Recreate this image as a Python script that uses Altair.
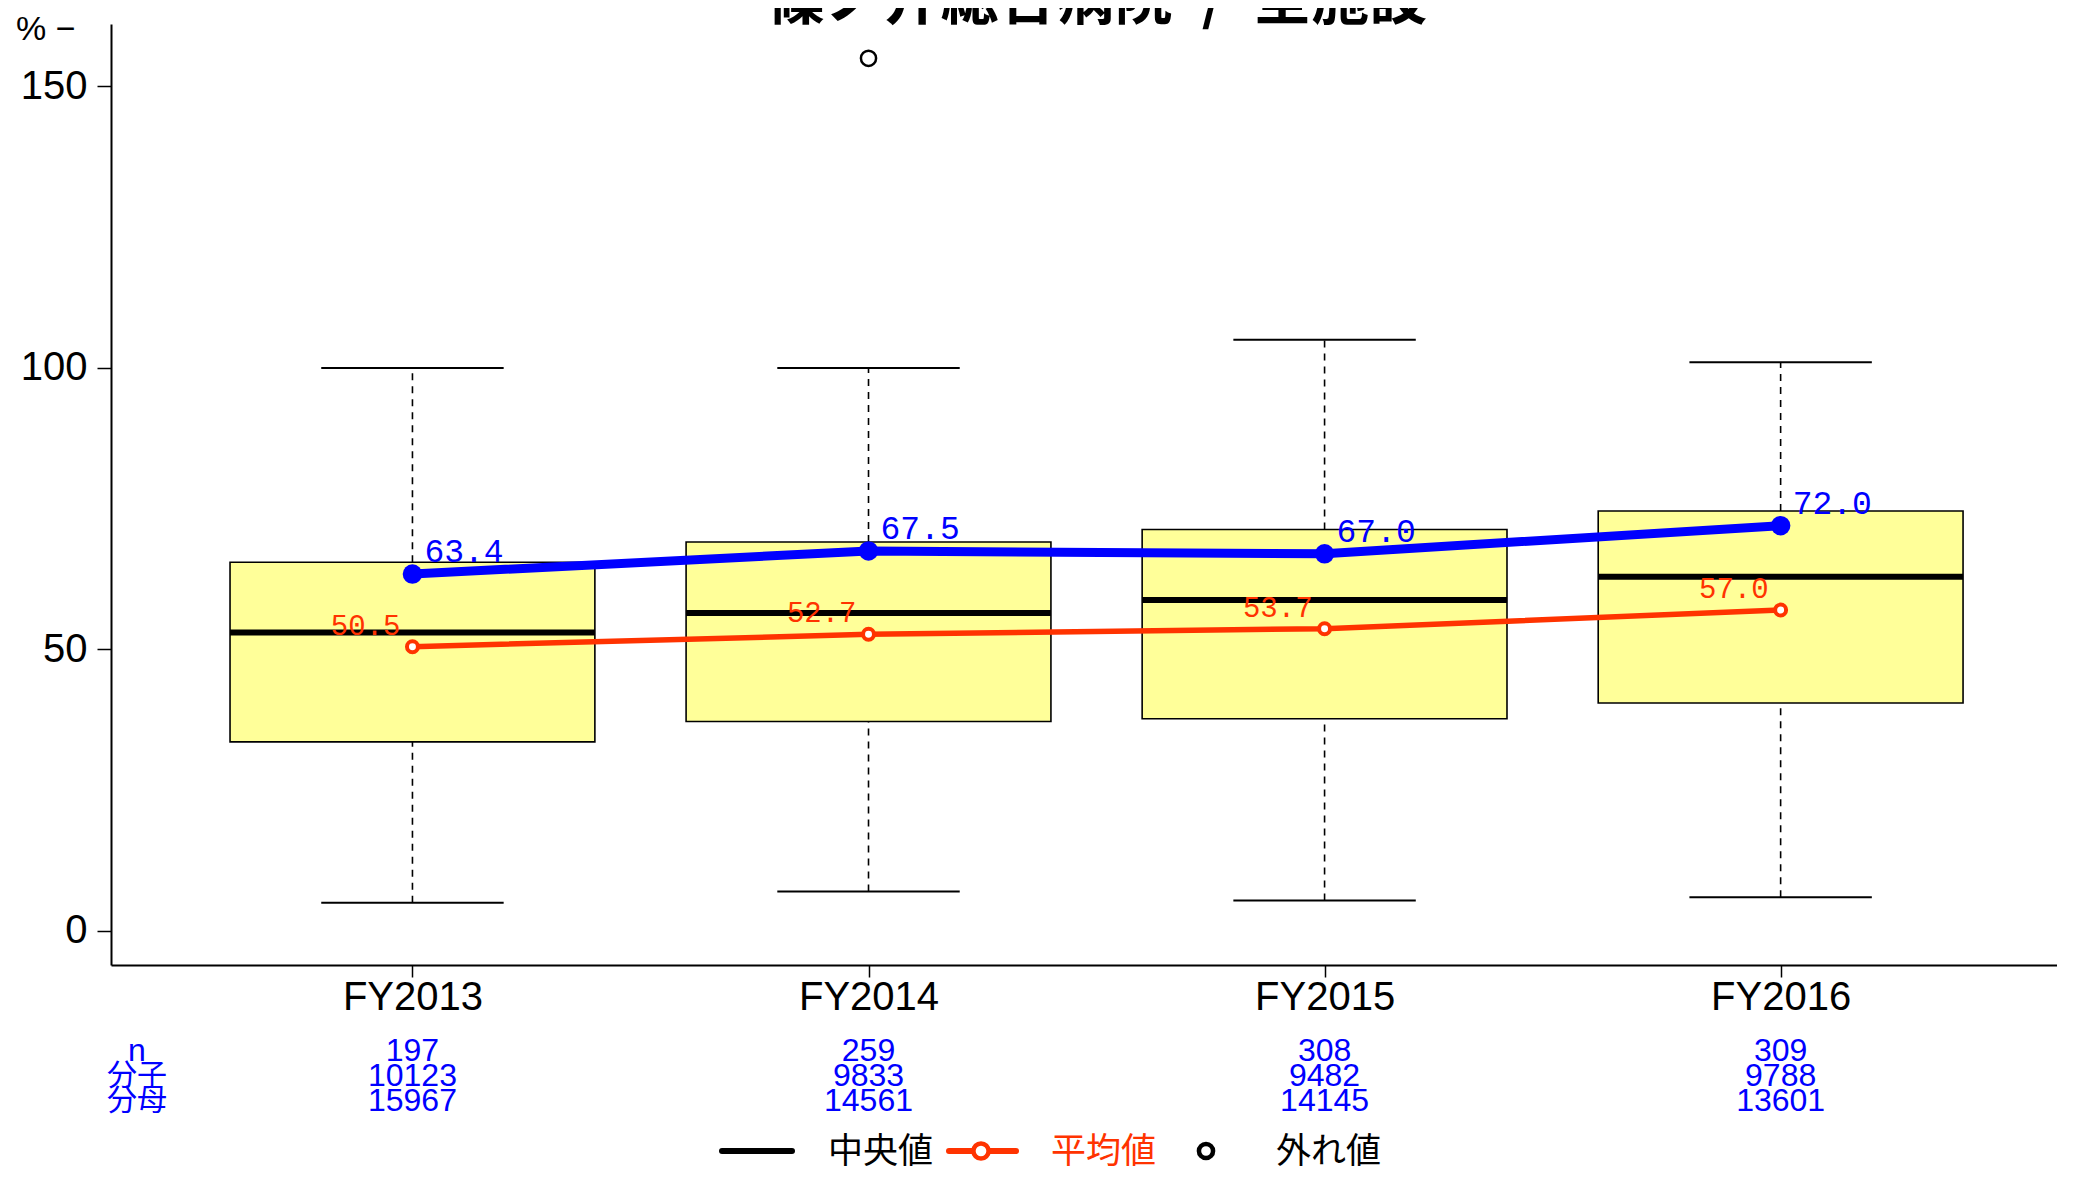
import json
import altair as alt
import pandas as pd

# ---------------- data ----------------
years = ["FY2013", "FY2014", "FY2015", "FY2016"]
idx = [1, 2, 3, 4]
whisker_low = [5.0, 7.0, 5.4, 6.0]
q1 = [33.6, 37.2, 37.7, 40.5]
median = [53.0, 56.5, 58.8, 62.9]
q3 = [65.5, 69.1, 71.3, 74.6]
whisker_high = [100.0, 100.0, 105.0, 101.0]
mean_vals = [50.5, 52.7, 53.7, 57.0]
hosp_vals = [63.4, 67.5, 67.0, 72.0]
outlier_idx = [2]
outlier_vals = [155.0]
n_vals = [197, 259, 308, 309]
numer_vals = [10123, 9833, 9482, 9788]
denom_vals = [15967, 14561, 14145, 13601]
row_labels = ["n", "分子", "分母"]
title_text = "篠ノ井総合病院\u2002/\u2002全施設"
legend_labels = ["中央値", "平均値", "外れ値"]

# ---------------- style ----------------
FONT = "Liberation Sans Narrow, Liberation Sans, Arial, sans-serif"
MONO = "Liberation Mono, DejaVu Sans Mono, monospace"
CJK = "Noto Sans CJK JP"
BLUE = "#0000FF"
RED = "#FF3300"
BOXFILL = "#FFFF99"

W, H = 1946, 941

df = pd.DataFrame({
    "i": idx, "year": years, "low": whisker_low, "q1": q1, "median": median,
    "q3": q3, "high": whisker_high, "mean": mean_vals, "hosp": hosp_vals,
    "n": n_vals, "numer": numer_vals, "denom": denom_vals,
})
df["mean_lbl"] = [f"{v:.1f}" for v in mean_vals]
df["hosp_lbl"] = [f"{v:.1f}" for v in hosp_vals]
out_df = pd.DataFrame({"i": outlier_idx, "v": outlier_vals})

xscale = alt.Scale(domain=[0.339, 4.606], nice=False, zero=False)
yscale = alt.Scale(domain=[-6.04, 161.1], nice=False, zero=False)

label_expr = f"{json.dumps(years)}[datum.value - 1]"
X = alt.X("i:Q", scale=xscale, title=None,
          axis=alt.Axis(values=idx, labelExpr=label_expr, grid=False, tickSize=12,
                        labelPadding=0, labelFontSize=40, labelFont=FONT,
                        labelColor="black", domainColor="black", domainWidth=2,
                        tickColor="black", tickWidth=1.5, labelFlush=False))
Y = alt.Y("v:Q", scale=yscale, title=None,
          axis=alt.Axis(values=[0, 50, 100, 150], grid=False, tickSize=14,
                        labelPadding=10, labelFontSize=40, labelFont=FONT,
                        labelColor="black", domainColor="black", domainWidth=2,
                        tickColor="black", tickWidth=1.5))

base = alt.Chart(df).transform_calculate(
    bl="datum.i - 0.4", br="datum.i + 0.4", cl="datum.i - 0.2", cr="datum.i + 0.2"
)


def xq(f):
    return alt.X(f"{f}:Q", scale=xscale, title=None)


def yq(f):
    return alt.Y(f"{f}:Q", scale=yscale, title=None)


# axis carrier layer (invisible)
axes = alt.Chart(out_df).mark_point(opacity=0).encode(x=X, y=Y)

wh_up = base.mark_rule(color="black", strokeWidth=1.6, strokeDash=[7, 6]).encode(
    x=xq("i"), y=yq("q3"), y2="high")
wh_lo = base.mark_rule(color="black", strokeWidth=1.6, strokeDash=[7, 6]).encode(
    x=xq("i"), y=yq("low"), y2="q1")
cap_up = base.mark_rule(color="black", strokeWidth=2).encode(
    x=xq("cl"), x2="cr", y=yq("high"))
cap_lo = base.mark_rule(color="black", strokeWidth=2).encode(
    x=xq("cl"), x2="cr", y=yq("low"))
box = base.mark_rect(fill=BOXFILL, stroke="black", strokeWidth=1.6).encode(
    x=xq("bl"), x2="br", y=yq("q1"), y2="q3")
med = base.mark_rule(color="black", strokeWidth=6).encode(
    x=xq("bl"), x2="br", y=yq("median"))

mean_line = base.mark_line(color=RED, strokeWidth=5.5).encode(x=xq("i"), y=yq("mean"))
mean_pts = base.mark_point(shape="circle", fill="white", stroke=RED, strokeWidth=4,
                           size=120, opacity=1, filled=False).encode(x=xq("i"), y=yq("mean"))
mean_txt = base.mark_text(color=RED, font=MONO, fontSize=29, align="right",
                          baseline="bottom", dx=-12, dy=-6).encode(
    x=xq("i"), y=yq("mean"), text="mean_lbl:N")

hosp_line = base.mark_line(color=BLUE, strokeWidth=9).encode(x=xq("i"), y=yq("hosp"))
hosp_pts = base.mark_circle(color=BLUE, size=380, opacity=1).encode(x=xq("i"), y=yq("hosp"))
hosp_txt = base.mark_text(color=BLUE, font=MONO, fontSize=33, align="left",
                          baseline="bottom", dx=12, dy=-5).encode(
    x=xq("i"), y=yq("hosp"), text="hosp_lbl:N")

outl = alt.Chart(out_df).mark_point(shape="circle", filled=False, stroke="black",
                                    strokeWidth=2.5, size=230, opacity=1).encode(
    x=xq("i"), y=yq("v"))

# counts under the axis
cnt_n = base.mark_text(color=BLUE, font=FONT, fontSize=32, baseline="middle").encode(
    x=xq("i"), y=alt.value(1027), text="n:N")
cnt_num = base.mark_text(color=BLUE, font=FONT, fontSize=32, baseline="middle").encode(
    x=xq("i"), y=alt.value(1052), text="numer:N")
cnt_den = base.mark_text(color=BLUE, font=FONT, fontSize=32, baseline="middle").encode(
    x=xq("i"), y=alt.value(1077), text="denom:N")

rl = pd.DataFrame({"t": row_labels, "yy": [1027, 1052, 1077]})
row_lbl_n = alt.Chart(rl.iloc[[0]]).mark_text(color=BLUE, font=FONT, fontSize=32,
                                               baseline="middle").encode(
    x=alt.value(26), y=alt.Y("yy:Q", scale=None), text="t:N")
row_lbl_cjk = alt.Chart(rl.iloc[1:]).mark_text(color=BLUE, font=CJK, fontSize=30,
                                               baseline="middle").encode(
    x=alt.value(26), y=alt.Y("yy:Q", scale=None), text="t:N")

# title (cut at the top as in reference)
title_df = pd.DataFrame({"t": [title_text]})
title = alt.Chart(title_df).mark_text(font=CJK, fontSize=58, fontWeight="bold",
                                      color="black", baseline="alphabetic").encode(
    x=alt.value(986), y=alt.value(-5), text="t:N")

pct_df = pd.DataFrame({"t": ["% −"]})
pct = alt.Chart(pct_df).mark_text(font=FONT, fontSize=34, color="black", align="left",
                                  baseline="middle").encode(
    x=alt.value(-95), y=alt.value(6), text="t:N")

# legend
LY = 1127
lg_black = alt.Chart(pct_df).mark_rule(color="black", strokeWidth=6, strokeCap="round").encode(
    x=alt.value(611), x2=alt.value(681), y=alt.value(LY))
lg_red = alt.Chart(pct_df).mark_rule(color=RED, strokeWidth=6, strokeCap="round").encode(
    x=alt.value(838), x2=alt.value(905), y=alt.value(LY))
lg_red_pt = alt.Chart(pct_df).mark_point(shape="circle", fill="white", stroke=RED,
                                         strokeWidth=4.5, size=230, opacity=1).encode(
    x=alt.value(870), y=alt.value(LY))
lg_blk_pt = alt.Chart(pct_df).mark_point(shape="circle", fill="white", stroke="black",
                                         strokeWidth=4.5, size=200, opacity=1).encode(
    x=alt.value(1095), y=alt.value(LY))
lg_df = pd.DataFrame({"t": legend_labels, "xx": [717, 940, 1165],
                      "c": ["black", RED, "black"]})
lg_txt = alt.Chart(lg_df).mark_text(font=CJK, fontSize=35, align="left",
                                    baseline="middle").encode(
    x=alt.X("xx:Q", scale=None), y=alt.value(LY + 1), text="t:N",
    color=alt.Color("c:N", scale=None))

chart = alt.layer(
    axes, wh_up, wh_lo, cap_up, cap_lo, box, med,
    mean_line, mean_pts, mean_txt,
    hosp_line, hosp_pts, hosp_txt, outl,
    cnt_n, cnt_num, cnt_den, row_lbl_n, row_lbl_cjk,
    title, pct, lg_black, lg_red, lg_red_pt, lg_blk_pt, lg_txt,
).properties(
    width=W, height=H,
    padding={"left": 103, "top": 16, "right": 0, "bottom": 207},
    autosize=alt.AutoSizeParams(type="none"),
    background="white",
).configure_view(stroke=None)

chart.save("out.html", embed_options={"renderer": "svg", "actions": False})
